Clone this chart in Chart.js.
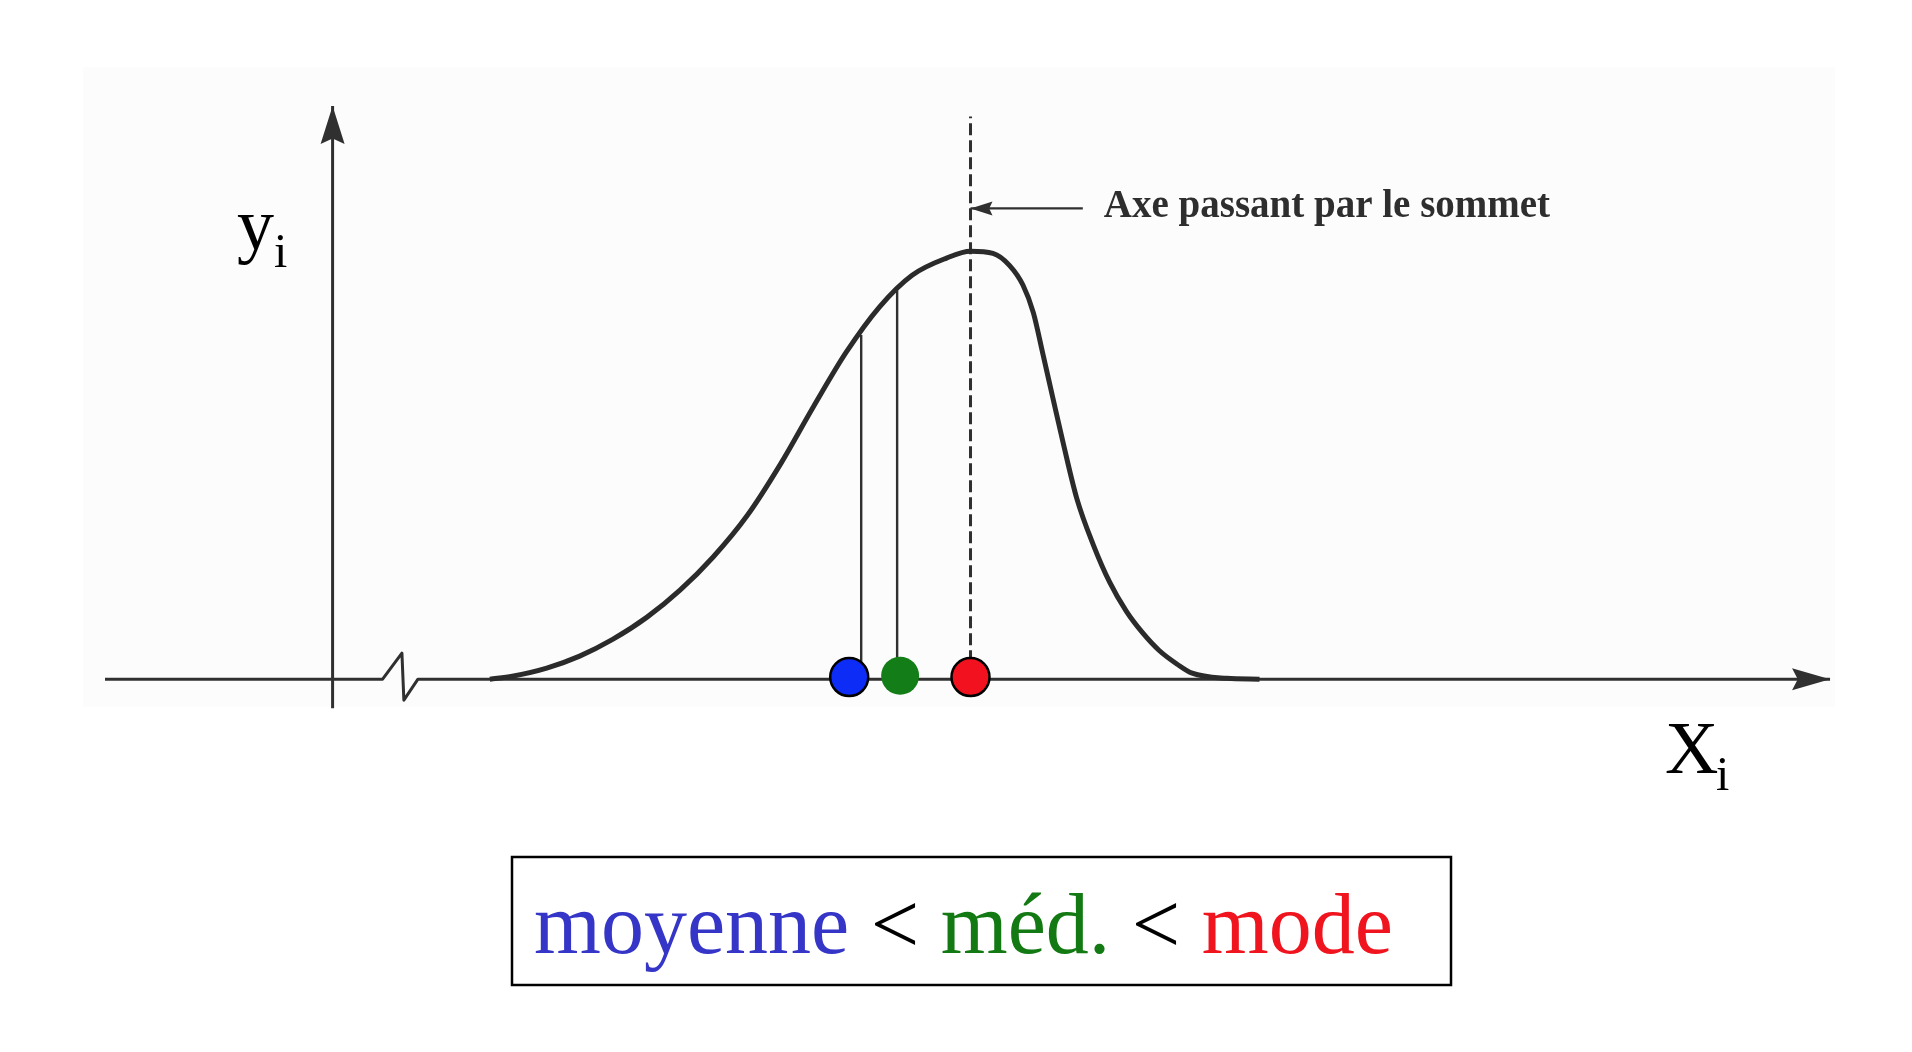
<!DOCTYPE html>
<html lang="fr">
<head>
<meta charset="utf-8">
<title>moyenne &lt; méd. &lt; mode</title>
<script src="https://cdn.jsdelivr.net/npm/chart.js@4.4.1/dist/chart.umd.min.js"></script>
<style>
  html, body { margin: 0; padding: 0; background: #ffffff; }
  #wrap { position: relative; width: 1912px; height: 1052px; }
</style>
</head>
<body>
<div id="wrap"><canvas id="graphique"></canvas></div>
<script>
// Courbe asymétrique (unités arbitraires : sommet = 100)
var courbeX = [10.5, 12.0, 14.3, 16.5, 18.7, 21.0, 23.2, 25.4, 27.7, 29.9, 32.1, 34.3, 36.5, 38.7, 41.0, 42.6,
               44.1, 45.2, 46.1, 46.8, 47.4, 48.1, 48.8, 49.7, 50.8, 51.9, 53.0, 54.1, 55.2, 56.4, 57.4, 59.7, 61.9];
var courbeY = [0, 0.7, 2.6, 5.4, 9.3, 14.5, 20.8, 28.5, 38.3, 50.2, 63.6, 76.4, 86.9, 94.4, 98.4, 100,
               99.5, 96.7, 92.1, 85.6, 76.5, 65.7, 55.0, 42.2, 31.4, 22.6, 15.9, 10.8, 6.7, 3.5, 1.4, 0.2, 0];

// Axes (avec la cassure de l'axe des X)
var axeXx = [-15.2, 3.34, 4.63, 4.76, 5.70, 100];
var axeXy = [0, 0, 6.1, -4.9, 0, 0];
var axeYx = [0, 0];
var axeYy = [-6.8, 133.9];

// Moyenne, médiane, mode
var statNoms = ['moyenne', 'méd.', 'mode'];
var statX    = [35.3, 37.7, 42.6];
var statHaut = [80.4, 90.9, 131.5];
var pointX   = [34.5, 37.9, 42.6];
var pointY   = [0.5, 0.8, 0.5];
var statCouleurs = ['#0d2cf6', '#137d18', '#f2111f'];

// Flèche « Axe passant par le sommet »
var noteX = [50.1, 42.6];
var noteY = [110, 110];
var noteTexte = 'Axe passant par le sommet';

function pts(xs, ys) {
  return xs.map(function(x, i) { return { x: x, y: ys[i] }; });
}

var GRIS = '#303030';

var datasets = [
  { label: 'courbe', data: pts(courbeX, courbeY), showLine: true, borderColor: '#2b2b2b',
    borderWidth: 5, pointRadius: 0, cubicInterpolationMode: 'monotone', order: 2 },
  { label: 'axeX', data: pts(axeXx, axeXy), showLine: true, borderColor: GRIS,
    borderWidth: 3, pointRadius: 0, tension: 0, order: 3 },
  { label: 'axeY', data: pts(axeYx, axeYy), showLine: true, borderColor: GRIS,
    borderWidth: 3, pointRadius: 0, order: 3 },
  { label: 'moyenne', data: pts([statX[0], statX[0]], [0, statHaut[0]]), showLine: true,
    borderColor: GRIS, borderWidth: 2.4, pointRadius: 0, order: 3 },
  { label: 'médiane', data: pts([statX[1], statX[1]], [0, statHaut[1]]), showLine: true,
    borderColor: GRIS, borderWidth: 2.4, pointRadius: 0, order: 3 },
  { label: 'sommet', data: pts([statX[2], statX[2]], [0, statHaut[2]]), showLine: true,
    borderColor: GRIS, borderWidth: 3, borderDash: [12, 5], pointRadius: 0, order: 3 },
  { label: 'note', data: pts(noteX, noteY), showLine: true, borderColor: GRIS,
    borderWidth: 2.4, pointRadius: 0, order: 3 }
];

statNoms.forEach(function(nom, i) {
  datasets.push({
    label: 'point ' + nom,
    data: [{ x: pointX[i], y: pointY[i] }],
    showLine: false,
    pointRadius: 19,
    pointBackgroundColor: statCouleurs[i],
    pointBorderColor: i === 1 ? statCouleurs[i] : '#000000',
    pointBorderWidth: i === 1 ? 0 : 2.5,
    order: 0
  });
});

function pointe(ctx, de, a, long, demi) {
  var ang = Math.atan2(a.y - de.y, a.x - de.x);
  ctx.save();
  ctx.translate(a.x, a.y);
  ctx.rotate(ang);
  ctx.beginPath();
  ctx.moveTo(0, 0);
  ctx.lineTo(-long, -demi);
  ctx.lineTo(-long * 0.85, 0);
  ctx.lineTo(-long, demi);
  ctx.closePath();
  ctx.fillStyle = GRIS;
  ctx.fill();
  ctx.restore();
}

var decor = {
  id: 'decor',
  beforeDraw: function(chart) {
    var ctx = chart.ctx;
    ctx.save();
    ctx.fillStyle = '#fcfcfd';
    ctx.fillRect(83, 67, 1752, 640);
    ctx.restore();
  },
  afterDraw: function(chart) {
    var ctx = chart.ctx;
    var sx = chart.scales.x, sy = chart.scales.y;
    function p(x, y) { return { x: sx.getPixelForValue(x), y: sy.getPixelForValue(y) }; }

    // pointes de flèches
    pointe(ctx, p(axeXx[4], 0), p(axeXx[5], axeXy[5]), 38, 11);
    pointe(ctx, p(0, axeYy[0]), p(0, axeYy[1]), 38, 12);
    pointe(ctx, p(noteX[0], noteY[0]), p(noteX[1], noteY[1]), 22, 7);

    ctx.save();
    ctx.textBaseline = 'alphabetic';
    ctx.textAlign = 'left';

    // texte de la flèche
    ctx.fillStyle = '#2e2e2e';
    ctx.font = 'bold 39px "Liberation Serif"';
    var debut = p(noteX[0], noteY[0]);
    ctx.fillText(noteTexte, debut.x + 21, 217);

    // noms des axes
    ctx.fillStyle = '#000000';
    ctx.font = '74px "Liberation Serif"';
    ctx.fillText('y', 237, 249);
    ctx.fillText('X', 1665, 773);
    ctx.font = '48px "Liberation Serif"';
    ctx.fillText('i', 274, 267);
    ctx.fillText('i', 1716, 790);

    // encadré
    ctx.strokeStyle = '#000000';
    ctx.lineWidth = 2.5;
    ctx.strokeRect(512, 857, 939, 128);
    ctx.font = '86px "Liberation Serif"';
    var morceaux = [[statNoms[0], '#3535c8'], [' < ', '#000000'], [statNoms[1], '#137a13'],
                    [' < ', '#000000'], [statNoms[2], '#f0141e']];
    var x = 534;
    morceaux.forEach(function(m) {
      ctx.fillStyle = m[1];
      ctx.fillText(m[0], x, 953);
      x += ctx.measureText(m[0]).width;
    });
    ctx.restore();
  }
};

new Chart(document.getElementById('graphique'), {
  type: 'scatter',
  data: { datasets: datasets },
  options: {
    responsive: true,
    maintainAspectRatio: false,
    animation: false,
    layout: { padding: { left: 93, right: 52, top: 80, bottom: 330 } },
    scales: {
      x: { type: 'linear', min: -16, max: 102, display: false },
      y: { type: 'linear', min: -10, max: 140, display: false }
    },
    plugins: { legend: { display: false }, tooltip: { enabled: false } },
    elements: { line: { borderCapStyle: 'butt', borderJoinStyle: 'round' } },
    clip: false
  },
  plugins: [decor]
});
</script>
</body>
</html>
